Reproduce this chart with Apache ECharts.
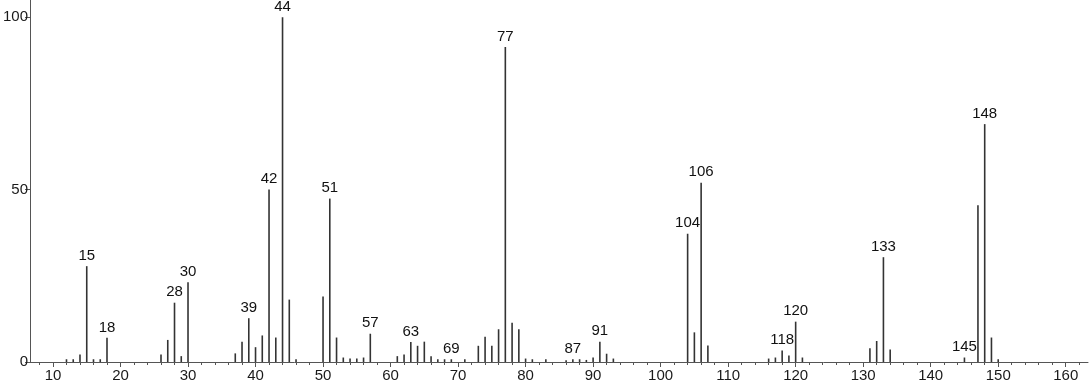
<!DOCTYPE html>
<html>
<head>
<meta charset="utf-8">
<script src="https://cdn.jsdelivr.net/npm/echarts@6/dist/echarts.min.js"></script>
<style>
html,body{margin:0;padding:0;background:#fff;}
#chart{width:1091px;height:387px;}
</style>
</head>
<body>
<div id="chart"></div>
<script>
// m/z values and relative intensities
const mz = [12,13,14,15,16,17,18,26,27,28,29,30,37,38,39,40,41,42,43,44,45,46,50,51,52,53,54,55,56,57,61,62,63,64,65,66,67,68,69,71,73,74,75,76,77,78,79,80,81,83,86,87,88,89,90,91,92,93,104,105,106,107,116,117,118,119,120,121,131,132,133,134,145,147,148,149,150];
const intensity = [0.8,0.8,2.2,27.8,0.8,0.8,7.0,2.2,6.4,17.2,1.7,23.1,2.5,5.9,12.7,4.3,7.7,50.0,7.1,100,18.1,0.8,19.0,47.4,7.1,1.3,1.0,1.0,1.3,8.2,1.7,2.2,5.8,4.7,5.9,1.7,0.8,0.8,0.8,0.8,4.7,7.3,4.7,9.5,91.4,11.4,9.5,1.0,0.8,0.8,0.5,0.8,0.8,0.6,1.3,5.9,2.4,1.0,37.2,8.6,52.0,4.8,1.0,1.3,3.3,1.9,11.7,1.3,4.0,6.1,30.4,3.6,1.3,45.5,69.0,7.1,0.8];
const labelledPeaks = [15,18,28,30,39,42,44,51,57,63,69,77,87,91,104,106,118,120,133,145,148];
const xTickLabels = [10,20,30,40,50,60,70,80,90,100,110,120,130,140,150,160];
const xMinorTicks = [8,12,14,16,18,22,24,26,28,32,34,36,38,42,44,46,48,52,54,56,58,62,64,66,68,72,74,76,78,82,84,86,88,92,94,96,98,102,104,106,108,112,114,116,118,122,124,126,128,132,134,136,138,142,144,146,148,152,154,156,158,162];
const yTickLabels = [0,50,100];

const data = mz.map((m, i) => [m, intensity[i]]);
const font = 'Arial, "Liberation Sans", sans-serif';
const xMin = 6.6, xMax = 163.3;

const chart = echarts.init(document.getElementById('chart'));
chart.setOption({
  animation: false,
  grid: {left: 30, right: 3, top: 0, bottom: 25},
  xAxis: [{
    type: 'value', min: xMin, max: xMax,
    axisLine: {show: true, onZero: false, lineStyle: {color: '#555', width: 1}},
    axisTick: {show: true, length: 5, customValues: xTickLabels, lineStyle: {color: '#555'}},
    axisLabel: {customValues: xTickLabels, color: '#1a1a1a', fontSize: 15, fontFamily: font, margin: 6},
    splitLine: {show: false}
  }, {
    type: 'value', min: xMin, max: xMax, position: 'bottom',
    axisLine: {show: false},
    axisTick: {show: true, length: 3, customValues: xMinorTicks, lineStyle: {color: '#555'}},
    axisLabel: {show: false},
    splitLine: {show: false}
  }],
  yAxis: {
    type: 'value', min: 0, max: 105,
    axisLine: {show: true, lineStyle: {color: '#555', width: 1}},
    axisTick: {show: true, length: 5, customValues: yTickLabels, lineStyle: {color: '#555'}},
    axisLabel: {customValues: yTickLabels, color: '#1a1a1a', fontSize: 15, fontFamily: font, margin: 2},
    splitLine: {show: false}
  },
  series: [{
    type: 'bar',
    xAxisIndex: 0,
    data: data,
    barWidth: 1.6,
    itemStyle: {color: '#333'},
    label: {
      show: true, position: 'top', distance: 3,
      color: '#111', fontSize: 15, fontFamily: font,
      formatter: p => labelledPeaks.includes(p.value[0]) ? String(p.value[0]) : ''
    }
  }]
});
</script>
</body>
</html>
